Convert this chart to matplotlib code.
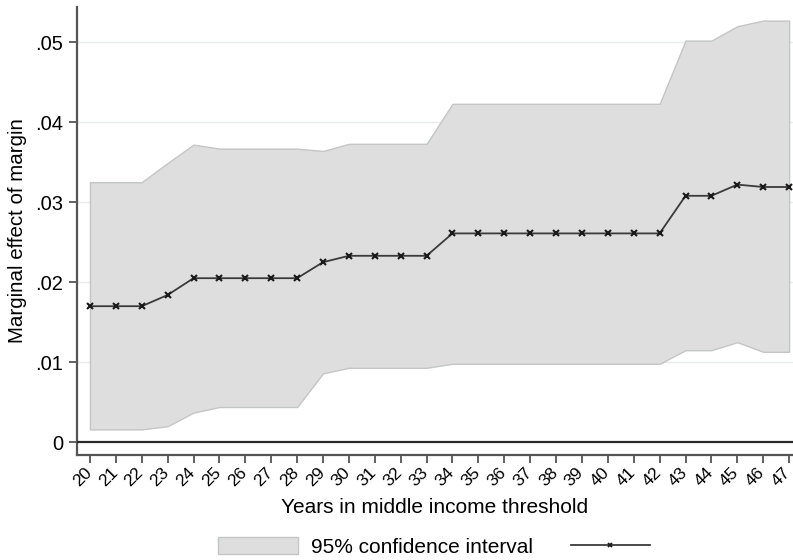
import matplotlib
matplotlib.use("Agg")
import matplotlib.pyplot as plt
import matplotlib.transforms as mtransforms
from matplotlib.patches import Patch
from matplotlib.lines import Line2D

plt.rcParams['font.family'] = ['Liberation Sans', 'DejaVu Sans']

years = list(range(20, 48))
effect = [0.0170, 0.0170, 0.0170, 0.0184, 0.0205, 0.0205, 0.0205, 0.0205, 0.0205,
          0.0225, 0.0233, 0.0233, 0.0233, 0.0233, 0.0261, 0.0261, 0.0261, 0.0261,
          0.0261, 0.0261, 0.0261, 0.0261, 0.0261, 0.0308, 0.0308, 0.0322, 0.0319, 0.0319]
ci_upper = [0.0325, 0.0325, 0.0325, 0.0349, 0.0372, 0.0367, 0.0367, 0.0367, 0.0367,
            0.0364, 0.0373, 0.0373, 0.0373, 0.0373, 0.0423, 0.0423, 0.0423, 0.0423,
            0.0423, 0.0423, 0.0423, 0.0423, 0.0423, 0.0502, 0.0502, 0.0520, 0.0527, 0.0527]
ci_lower = [0.0016, 0.0016, 0.0016, 0.0020, 0.0037, 0.0044, 0.0044, 0.0044, 0.0044,
            0.0086, 0.0093, 0.0093, 0.0093, 0.0093, 0.0098, 0.0098, 0.0098, 0.0098,
            0.0098, 0.0098, 0.0098, 0.0098, 0.0098, 0.0115, 0.0115, 0.0125, 0.0113, 0.0113]
y_ticks = [0, 0.01, 0.02, 0.03, 0.04, 0.05]
y_tick_labels = ['0', '.01', '.02', '.03', '.04', '.05']
x_tick_labels = [str(y) for y in years]

fig = plt.figure(figsize=(7.93, 5.60), dpi=100)
ax = fig.add_axes([77 / 793, 1 - 455 / 560, 716 / 793, 448 / 560])

fill_color = '#dedede'
edge_color = '#c4c6c6'
ax.fill_between(years, ci_lower, ci_upper, facecolor=fill_color,
                edgecolor=edge_color, linewidth=1.0, zorder=2)
ax.plot(years, effect, color='#3a3a3a', linewidth=1.3, marker='x',
        markersize=4, markeredgewidth=1.5, markeredgecolor='#1a1a1a', zorder=4)
ax.axhline(0, color='#2a2a2a', linewidth=1.6, zorder=3)

ax.set_xlim(19.5, 47.15)
ax.set_ylim(-0.0016, 0.0544)
ax.set_yticks(y_ticks)
ax.set_yticklabels(y_tick_labels)
ax.set_xticks(years)
ax.set_xticklabels([])

# rotated year labels, anchored just below each tick mark
label_tf = ax.get_xaxis_transform() + mtransforms.ScaledTranslation(
    -6 / 100, -10 / 100, fig.dpi_scale_trans)
for x, txt in zip(years, x_tick_labels):
    ax.text(x, 0, txt, transform=label_tf, rotation=45, ha='right', va='top',
            rotation_mode='anchor', fontsize=12.5, clip_on=False)

for y in y_ticks[1:]:
    ax.axhline(y, color='#e4ecee', linewidth=1.0, zorder=1)

for side in ['top', 'right']:
    ax.spines[side].set_visible(False)
for side in ['left', 'bottom']:
    ax.spines[side].set_color('#555555')
    ax.spines[side].set_linewidth(1.6)

ax.tick_params(axis='y', labelsize=14.5, length=6, width=1.3, color='#555555', pad=4)
ax.tick_params(axis='x', length=6, width=1.3, color='#555555', pad=2)

ax.set_ylabel('Marginal effect of margin', fontsize=14.8, labelpad=6)
ax.set_xlabel('Years in middle income threshold', fontsize=15, labelpad=23)

handles = [Patch(facecolor=fill_color, edgecolor=edge_color, linewidth=1.0),
           Line2D([], [], color='#3a3a3a', linewidth=1.3, marker='x', markersize=3,
                  markeredgewidth=1.3, markeredgecolor='#1a1a1a')]
fig.legend(handles, ['95% confidence interval', ''], loc='lower center',
           bbox_to_anchor=(0.556, 3 / 560), ncol=2, frameon=False, fontsize=15,
           borderpad=0, borderaxespad=0, handlelength=3.8, handleheight=0.9,
           columnspacing=1.8, handletextpad=0.65)

fig.savefig('out.png', dpi=100)
